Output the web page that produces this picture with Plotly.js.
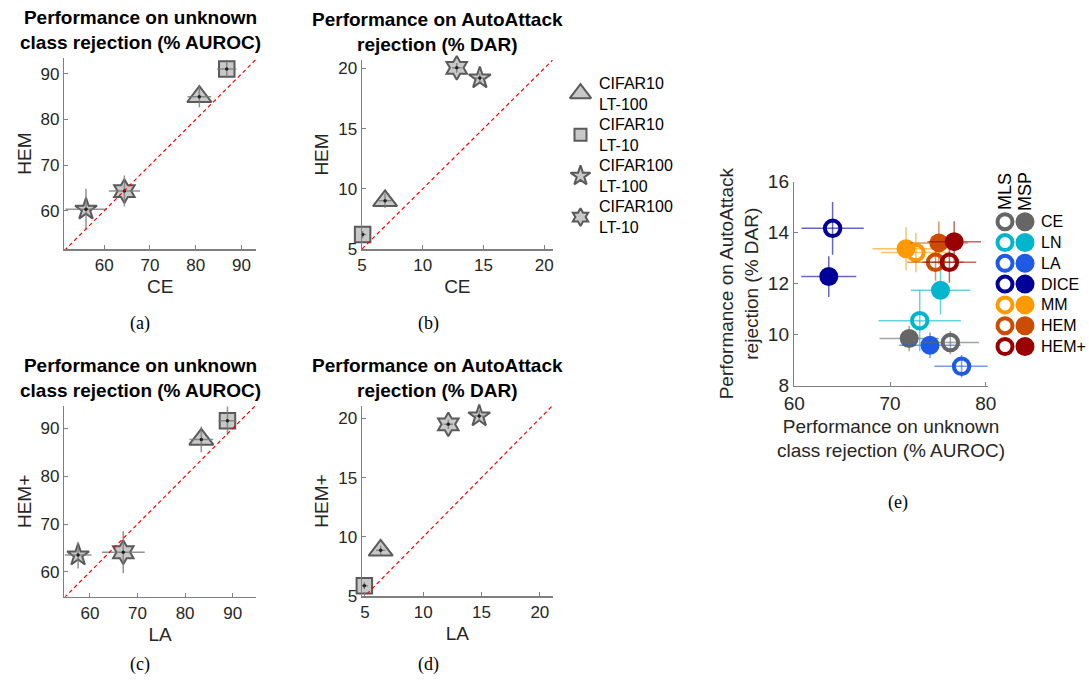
<!DOCTYPE html>
<html><head><meta charset="utf-8">
<script src="https://cdn.plot.ly/plotly-3.0.1.min.js"></script>
<style>body{margin:0;background:#fff}#chart{width:1089px;height:682px}</style>
</head><body><div id="chart"></div>
<script>
// ---------- Panels (a)-(d): datasets ----------
const datasets = ['CIFAR10<br>LT-100', 'CIFAR10<br>LT-10', 'CIFAR100<br>LT-100', 'CIFAR100<br>LT-10'];
const datasetSymbols = ['triangle-up', 'square', 'star', 'hexagram'];

// (a) AUROC: CE (x) vs HEM (y)
const aucCE = [80.8, 86.8, 56.0, 64.4];
const aucCEerr = [2.6, 2.1, 4.5, 3.4];
const aucHEM = [85.0, 91.1, 60.3, 64.3];
const aucHEMerr = [2.3, 2.0, 4.5, 3.4];

// (b) DAR: CE (x) vs HEM (y)
const darCE = [6.9, 5.05, 14.7, 12.8];
const darCEerr = [0.55, 0.3, 0.4, 0.4];
const darHEM = [9.0, 6.2, 19.2, 20.05];
const darHEMerr = [0.6, 0.3, 0.4, 0.4];

// (c) AUROC: LA (x) vs HEM+ (y)
const aucLA = [83.4, 88.9, 57.5, 67.0];
const aucLAerr = [2.5, 1.9, 2.8, 4.5];
const aucHEMp = [87.7, 91.6, 63.5, 64.1];
const aucHEMperr = [2.7, 3.0, 2.8, 4.4];

// (d) DAR: LA (x) vs HEM+ (y)
const darLA = [6.35, 4.95, 14.8, 12.15];
const darLAerr = [0.4, 0.3, 0.4, 0.4];
const darHEMp = [8.86, 5.87, 20.2, 19.5];
const darHEMperr = [0.4, 0.3, 0.5, 0.4];

// ---------- Panel (e): methods ----------
const methods = ['CE', 'LN', 'LA', 'DICE', 'MM', 'HEM', 'HEM+'];
const methodColors = ['#666666', '#00b5cc', '#1f5ae6', '#000099', '#ff9900', '#cc4c00', '#990000'];
const mlsAUROC = [76.3, 73.1, 77.47, 64.0, 72.7, 74.75, 76.2];
const mlsAUROCerr = [3.0, 4.3, 2.85, 3.25, 3.6, 2.95, 2.8];
const mlsDAR = [9.69, 10.55, 8.76, 14.17, 13.22, 12.84, 12.84];
const mlsDARerr = [0.46, 1.2, 0.44, 1.03, 0.77, 0.72, 0.8];
const mspAUROC = [72.0, 75.27, 74.17, 63.6, 71.67, 75.1, 76.7];
const mspAUROCerr = [3.1, 3.1, 3.2, 2.87, 3.5, 3.0, 2.8];
const mspDAR = [9.85, 11.74, 9.59, 12.28, 13.37, 13.6, 13.65];
const mspDARerr = [0.5, 0.95, 0.5, 0.8, 0.84, 0.84, 0.8];

// ---------- layout helpers ----------
const W = 1089, H = 682;
const fx = p => p / W, fy = p => 1 - p / H;
const FONT = 'Liberation Sans, Arial, sans-serif';
const TXT = '#262626';

function xAx(x0, x1, range, tickvals, title, tfs, ttfs, standoff, anchor) {
  return {domain: [fx(x0), fx(x1)], range, tickvals, anchor, showline: true, linecolor: '#7f7f7f', linewidth: 1.5,
    ticks: 'inside', ticklen: 4, tickcolor: '#7f7f7f', showgrid: false, zeroline: false,
    tickfont: {size: tfs, color: TXT, family: FONT}, title: {text: title, font: {size: ttfs, color: TXT, family: FONT}, standoff}};
}
function yAx(y0, y1, range, tickvals, title, tfs, ttfs, standoff, anchor) {
  return {domain: [fy(y1), fy(y0)], range, tickvals, anchor, showline: true, linecolor: '#7f7f7f', linewidth: 1.5,
    ticks: 'inside', ticklen: 4, tickcolor: '#7f7f7f', showgrid: false, zeroline: false,
    tickfont: {size: tfs, color: TXT, family: FONT}, title: {text: title, font: {size: ttfs, color: TXT, family: FONT}, standoff}};
}

const panels = [
  {xs: aucCE, xe: aucCEerr, ys: aucHEM, ye: aucHEMerr, xa: 'x', ya: 'y', px: [64.3, 256], py: [58, 249], xr: [51.25, 93.2], yr: [51.6, 93.5], tv: [60, 70, 80, 90], xt: 'CE', yt: 'HEM'},
  {xs: darCE, xe: darCEerr, ys: darHEM, ye: darHEMerr, xa: 'x2', ya: 'y2', px: [362, 552.7], py: [60, 249], xr: [5, 20.7], yr: [5, 20.7], tv: [5, 10, 15, 20], xt: 'CE', yt: 'HEM'},
  {xs: aucLA, xe: aucLAerr, ys: aucHEMp, ye: aucHEMperr, xa: 'x3', ya: 'y3', px: [64.3, 256], py: [406, 596.7], xr: [54.6, 94.9], yr: [54.8, 94.7], tv: [60, 70, 80, 90], xt: 'LA', yt: 'HEM+'},
  {xs: darLA, xe: darLAerr, ys: darHEMp, ye: darHEMperr, xa: 'x4', ya: 'y4', px: [362, 552.7], py: [406, 596], xr: [4.75, 21.1], yr: [5, 21.05], tv: [5, 10, 15, 20], xt: 'LA', yt: 'HEM+'}
];
const symSize = [21, 15.5, 16.5, 18];
const legSize = [18.5, 12, 15, 13.5];

const traces = [];
const layout = {
  width: W, height: H, margin: {l: 0, r: 0, t: 0, b: 0}, showlegend: false,
  paper_bgcolor: '#ffffff', plot_bgcolor: '#ffffff', font: {family: FONT, color: TXT},
  annotations: []
};

panels.forEach((p, k) => {
  const n = k === 0 ? '' : String(k + 1);
  layout['xaxis' + n] = xAx(p.px[0], p.px[1], p.xr, p.tv, p.xt, 17, 19, 6, p.ya);
  layout['yaxis' + n] = yAx(p.py[0], p.py[1], p.yr, p.tv, p.yt, 17, 19, 4, p.xa);
  // markers
  datasets.forEach((d, i) => {
    traces.push({type: 'scatter', mode: 'markers', x: [p.xs[i]], y: [p.ys[i]], xaxis: p.xa, yaxis: p.ya, cliponaxis: false,
      name: d, hoverinfo: 'skip',
      marker: {symbol: datasetSymbols[i], size: symSize[i], color: 'rgba(190,190,190,0.85)', line: {color: '#5a5a5a', width: 2}}});
  });
  // error bars + centre dots
  traces.push({type: 'scatter', mode: 'markers', x: p.xs, y: p.ys, xaxis: p.xa, yaxis: p.ya, cliponaxis: false,
    marker: {size: 3.5, color: '#222222'},
    error_x: {type: 'data', array: p.xe, color: 'rgba(120,120,120,0.8)', thickness: 1.5, width: 0},
    error_y: {type: 'data', array: p.ye, color: 'rgba(120,120,120,0.8)', thickness: 1.5, width: 0}});
  // identity line
  const lo = Math.min(p.xr[0], p.yr[0]), hi = Math.max(p.xr[1], p.yr[1]);
  traces.push({type: 'scatter', mode: 'lines', x: [lo, hi], y: [lo, hi], xaxis: p.xa, yaxis: p.ya,
    line: {color: '#ff0000', width: 1.2, dash: '4px,3px'}, hoverinfo: 'skip'});
});

// subplot titles (a)-(d)
const titleA = '<b>Performance on unknown<br>class rejection (% AUROC)</b>';
const titleB = '<b>Performance on AutoAttack<br>rejection (% DAR)</b>';
[[140, 30, titleA], [437, 32, titleB], [140, 378, titleA], [437, 378, titleB]].forEach(t => {
  layout.annotations.push({xref: 'paper', yref: 'paper', x: fx(t[0]), y: fy(t[1]), text: t[2], showarrow: false,
    xanchor: 'center', yanchor: 'middle', align: 'center', font: {size: 19, color: '#000000', family: FONT}});
});
// captions
[[140, 323, '(a)'], [428, 323, '(b)'], [140, 664, '(c)'], [428, 664, '(d)'], [898, 502, '(e)']].forEach(t => {
  layout.annotations.push({xref: 'paper', yref: 'paper', x: fx(t[0]), y: fy(t[1]), text: t[2], showarrow: false,
    xanchor: 'center', yanchor: 'middle', font: {size: 18, color: '#000000', family: 'Liberation Serif, Times New Roman, serif'}});
});

// ---------- legend for (a)-(d) on a hidden axis (pixel units) ----------
layout.xaxis6 = {domain: [fx(560), fx(680)], range: [560, 680], visible: false, anchor: 'y6', fixedrange: true};
layout.yaxis6 = {domain: [fy(240), fy(60)], range: [240, 60], visible: false, anchor: 'x6', fixedrange: true};
datasets.forEach((d, i) => {
  const yy = 93.5 + i * 41.2;
  traces.push({type: 'scatter', mode: 'markers', x: [580.5], y: [yy], xaxis: 'x6', yaxis: 'y6', cliponaxis: false, hoverinfo: 'skip',
    marker: {symbol: datasetSymbols[i], size: legSize[i], color: 'rgba(190,190,190,0.85)', line: {color: '#5a5a5a', width: 2}}});
  layout.annotations.push({xref: 'x6', yref: 'y6', x: 597, y: yy, text: d, showarrow: false, xanchor: 'left', yanchor: 'middle',
    align: 'left', font: {size: 16, color: '#000000', family: FONT}});
});

// ---------- panel (e) ----------
layout.xaxis5 = xAx(794.3, 987.7, [60, 80.2], [60, 70, 80], 'Performance on unknown<br>class rejection (% AUROC)', 19, 19, 6, 'y5');
layout.yaxis5 = yAx(181.7, 385.7, [8, 16], [8, 10, 12, 14, 16], 'Performance on AutoAttack<br>rejection (% DAR)', 19, 19, 4, 'x5');

function rgba(hex, a) {
  const r = parseInt(hex.slice(1, 3), 16), g = parseInt(hex.slice(3, 5), 16), b = parseInt(hex.slice(5, 7), 16);
  return `rgba(${r},${g},${b},${a})`;
}
methods.forEach((m, i) => {
  traces.push({type: 'scatter', mode: 'markers', name: m + ' MSP', x: [mspAUROC[i]], y: [mspDAR[i]], xaxis: 'x5', yaxis: 'y5', cliponaxis: false,
    marker: {symbol: 'circle', size: 19, color: methodColors[i], line: {width: 0}},
    error_x: {type: 'data', array: [mspAUROCerr[i]], color: rgba(methodColors[i], 0.6), thickness: 1.5, width: 0},
    error_y: {type: 'data', array: [mspDARerr[i]], color: rgba(methodColors[i], 0.6), thickness: 1.5, width: 0}});
});
methods.forEach((m, i) => {
  traces.push({type: 'scatter', mode: 'markers', name: m + ' MLS', x: [mlsAUROC[i]], y: [mlsDAR[i]], xaxis: 'x5', yaxis: 'y5', cliponaxis: false,
    marker: {symbol: 'circle-open', size: 15.5, color: methodColors[i], line: {width: 4, color: methodColors[i]}},
    error_x: {type: 'data', array: [mlsAUROCerr[i]], color: rgba(methodColors[i], 0.6), thickness: 1.5, width: 0},
    error_y: {type: 'data', array: [mlsDARerr[i]], color: rgba(methodColors[i], 0.6), thickness: 1.5, width: 0}});
});

// legend for (e) on a hidden axis (pixel units)
layout.xaxis7 = {domain: [fx(990), fx(1089)], range: [990, 1089], visible: false, anchor: 'y7', fixedrange: true};
layout.yaxis7 = {domain: [fy(360), fy(150)], range: [360, 150], visible: false, anchor: 'x7', fixedrange: true};
methods.forEach((m, i) => {
  const yy = 221.7 + i * 20.8;
  traces.push({type: 'scatter', mode: 'markers', x: [1005], y: [yy], xaxis: 'x7', yaxis: 'y7', cliponaxis: false, hoverinfo: 'skip',
    marker: {symbol: 'circle-open', size: 15, color: methodColors[i], line: {width: 4, color: methodColors[i]}}});
  traces.push({type: 'scatter', mode: 'markers', x: [1025], y: [yy], xaxis: 'x7', yaxis: 'y7', cliponaxis: false, hoverinfo: 'skip',
    marker: {symbol: 'circle', size: 19, color: methodColors[i], line: {width: 0}}});
  layout.annotations.push({xref: 'x7', yref: 'y7', x: 1039, y: yy, text: m, showarrow: false, xanchor: 'left', yanchor: 'middle',
    font: {size: 16, color: '#000000', family: FONT}});
});
[[1005, 'MLS'], [1025, 'MSP']].forEach(h => {
  layout.annotations.push({xref: 'x7', yref: 'y7', x: h[0], y: 192, text: h[1], showarrow: false, textangle: -90,
    xanchor: 'center', yanchor: 'middle', font: {size: 18, color: '#000000', family: FONT}});
});

Plotly.newPlot('chart', traces, layout, {staticPlot: true, displayModeBar: false});
</script>
</body></html>
